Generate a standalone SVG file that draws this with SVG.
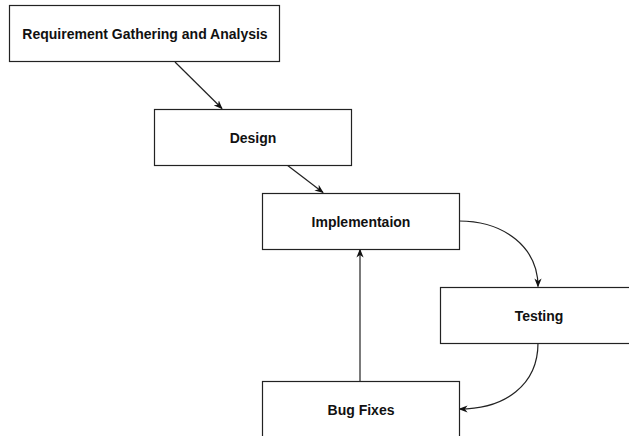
<svg xmlns="http://www.w3.org/2000/svg" width="629" height="436" viewBox="0 0 629 436">
<style>
.box{fill:#fff;stroke:#222;stroke-width:1.2}
.lbl{font-family:"Liberation Sans",Arial,sans-serif;font-size:14px;font-weight:bold;fill:#111;text-anchor:middle;dominant-baseline:central}
.edge{fill:none;stroke:#222;stroke-width:1.2}
</style>
<defs>
<marker id="ah" viewBox="0 0 10 10" refX="9" refY="5" markerWidth="9" markerHeight="9" markerUnits="userSpaceOnUse" orient="auto">
<path d="M0,1 L10,5 L0,9 L3,5 Z" fill="#111"/>
</marker>
</defs>
<rect width="629" height="436" fill="#fff"/>
<g id="connectors">
<line class="edge" x1="175" y1="62" x2="222" y2="108.5" marker-end="url(#ah)"/>
<line class="edge" x1="287" y1="165" x2="323" y2="192.5" marker-end="url(#ah)"/>
<path class="edge" d="M459,221 C505,221 538,248 538,286.5" marker-end="url(#ah)"/>
<path class="edge" d="M538,343 C538,385 505,409 459.5,409" marker-end="url(#ah)"/>
<line class="edge" x1="360" y1="381" x2="360" y2="249.5" marker-end="url(#ah)"/>
</g>
<g id="n1"><rect class="box" x="9.5" y="5.5" width="270" height="56"/><text class="lbl" x="145" y="33.5">Requirement Gathering and Analysis</text></g>
<g id="n2"><rect class="box" x="154.5" y="109.5" width="197" height="56"/><text class="lbl" x="253" y="137.5">Design</text></g>
<g id="n3"><rect class="box" x="262.5" y="193.5" width="197" height="56"/><text class="lbl" x="361" y="221.5">Implementaion</text></g>
<g id="n4"><rect class="box" x="440.5" y="287.5" width="197" height="56"/><text class="lbl" x="539" y="315.5">Testing</text></g>
<g id="n5"><rect class="box" x="262.5" y="381.5" width="197" height="56"/><text class="lbl" x="361" y="409.5">Bug Fixes</text></g>
</svg>
